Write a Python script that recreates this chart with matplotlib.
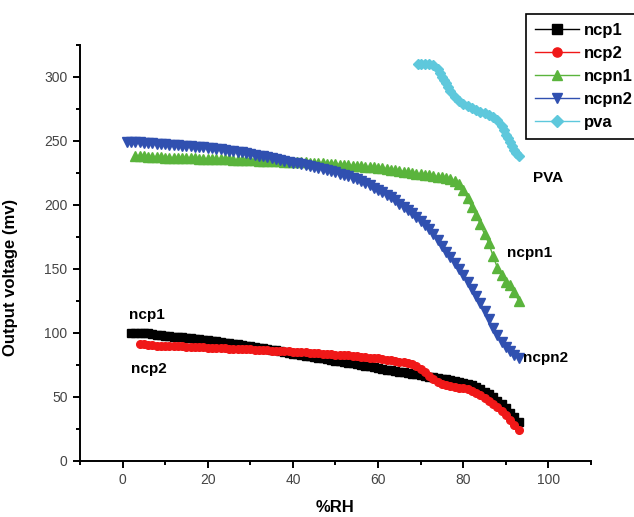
import matplotlib
matplotlib.use('Agg')
import matplotlib.pyplot as plt
from matplotlib.ticker import MultipleLocator

# values (one reading per 1 %RH)
ncp1_x = list(range(2, 94))
ncp1_y = [100, 100, 100, 100, 99.6, 99.1, 98.6, 98.2, 97.8, 97.4, 97.0, 96.7, 96.4, 96.0,
          95.7, 95.3, 95.0, 94.7, 94.3, 93.8, 93.4, 92.9, 92.4, 91.9, 91.4, 90.9, 90.4, 89.9,
          89.5, 89.0, 88.5, 88.0, 87.4, 86.8, 86.2, 85.6, 85.0, 84.4, 83.8, 83.1, 82.5, 82.0,
          81.5, 81.0, 80.5, 80.0, 79.5, 78.9, 78.2, 77.6, 77.0, 76.5, 76.0, 75.5, 75.0, 74.4,
          73.8, 73.2, 72.5, 71.9, 71.3, 70.8, 70.2, 69.6, 69.0, 68.5, 68.0, 67.5, 67.0, 66.4,
          65.8, 65.2, 64.5, 64.0, 63.5, 62.9, 62.2, 61.5, 60.8, 60.0, 59.0, 57.5, 56.0, 54.0,
          52.0, 49.5, 47.0, 44.0, 41.0, 37.5, 34.0, 30.0]

ncp2_x = list(range(4, 94))
ncp2_y = [91.5, 91.0, 90.6, 90.3, 90.0, 89.9, 89.8, 89.6, 89.5, 89.4, 89.3, 89.1, 89.0, 89.0,
          88.9, 88.7, 88.5, 88.3, 88.2, 88.1, 88.0, 87.7, 87.5, 87.3, 87.2, 87.1, 87.0, 86.7,
          86.5, 86.3, 86.2, 86.1, 86.0, 85.8, 85.6, 85.4, 85.2, 85.1, 85.0, 84.7, 84.5, 84.2,
          84.0, 83.7, 83.5, 83.2, 83.0, 82.8, 82.6, 82.3, 82.0, 81.6, 81.2, 80.8, 80.5, 80.2,
          80.0, 79.5, 79.0, 78.5, 78.0, 77.5, 77.0, 76.3, 75.5, 74.0, 72.0, 69.0, 66.0, 63.5,
          61.5, 60.0, 59.0, 58.2, 57.5, 57.0, 56.5, 55.7, 54.5, 53.0, 51.0, 49.0, 46.5, 44.5,
          42.0, 39.0, 35.5, 32.0, 28.0, 24.0]

ncpn1_x = list(range(3, 94))
ncpn1_y = [238, 238, 238, 237.8, 237.5, 237.3, 237.1, 237, 237, 236.9, 236.8, 236.6, 236.5,
           236.4, 236.3, 236.1, 236, 236, 236, 235.9, 235.8, 235.6, 235.5, 235.4, 235.3,
           235.1, 235, 234.9, 234.8, 234.6, 234.5, 234.3, 234.2, 234.1, 234, 233.9, 233.8,
           233.6, 233.5, 233.3, 233.2, 233.1, 233, 232.7, 232.5, 232.2, 232, 231.7, 231.5,
           231.2, 231, 230.7, 230.5, 230.2, 230, 229.7, 229.3, 228.9, 228.5, 228, 227.5,
           227.1, 226.7, 226.1, 225.5, 225, 224.5, 224, 223.5, 223, 222.5, 222, 221.5, 220.8,
           220, 218.5, 216.5, 212, 205, 198, 192, 185, 177, 170, 160, 151, 145, 140, 137,
           132, 125]

ncpn2_x = list(range(1, 94))
ncpn2_y = [249.5, 249.3, 249, 248.8, 248.5, 248.3, 248, 247.8, 247.5, 247.3, 247, 246.8,
           246.5, 246.3, 246, 245.8, 245.5, 245.3, 245, 244.6, 244.2, 243.9, 243.5, 243,
           242.5, 242, 241.5, 241, 240.5, 239.9, 239.2, 238.6, 238, 237.3, 236.5, 235.8, 235,
           234.2, 233.5, 233, 232.5, 231.8, 231, 230.3, 229.5, 228.8, 228, 227.3, 226.5,
           225.5, 224.5, 223.5, 222.5, 221.3, 220, 218.5, 217, 215.3, 213.5, 211.8, 210, 208,
           206, 203.5, 201, 198.5, 196, 193.3, 190.5, 187.5, 184.5, 181, 177, 172.5, 168,
           163.5, 159, 154.5, 150, 145, 140, 134.5, 129, 123, 117, 110.5, 104, 98, 93, 89,
           85.5, 82.5, 80]

pva_x = [69.3, 70, 71, 72, 73, 74, 74.5, 75, 75.5, 76, 76.5, 77, 78, 79, 80, 81, 82, 83,
         84, 85, 86, 87, 88, 89, 89.5, 90, 90.5, 91, 91.5, 92, 92.5, 93]
pva_y = [310, 310.5, 310.5, 310.5, 309, 306, 303, 300, 297.5, 295, 292, 289, 284.5, 281,
         279, 277.5, 276, 274.5, 273, 272, 270.5, 268.5, 266, 262, 258.5, 255, 252, 249,
         246, 243, 240.7, 238.5]

plt.rcParams['font.family'] = ['Liberation Sans', 'DejaVu Sans']

fig = plt.figure(figsize=(6.34, 5.17), dpi=100)
ax = fig.add_axes([80 / 634, 1 - 460.7 / 517, 511 / 634, 415.7 / 517])

ax.plot(ncp1_x, ncp1_y, '-s', color='black', ms=5.5, lw=1, label='ncp1')
ax.plot(ncp2_x, ncp2_y, '-o', color='#f01818', ms=5.5, lw=1, label='ncp2')
ax.plot(ncpn1_x, ncpn1_y, '-^', color='#5ab43c', ms=6.5, lw=1, label='ncpn1')
ax.plot(ncpn2_x, ncpn2_y, '-v', color='#3050b0', ms=6.5, lw=1, label='ncpn2')
ax.plot(pva_x, pva_y, '-D', color='#5ec8dc', ms=5, lw=1, label='pva')

ax.set_xlim(-10, 110)
ax.set_ylim(0, 325)
ax.xaxis.set_major_locator(MultipleLocator(20))
ax.xaxis.set_minor_locator(MultipleLocator(10))
ax.yaxis.set_major_locator(MultipleLocator(50))
ax.yaxis.set_minor_locator(MultipleLocator(25))

for s in ['top', 'right']:
    ax.spines[s].set_visible(False)
for s in ['left', 'bottom']:
    ax.spines[s].set_linewidth(1.4)

ax.tick_params(which='major', direction='out', length=5, width=1.4,
               labelsize=10, labelcolor='#444444', pad=4)
ax.tick_params(which='minor', direction='out', length=3, width=1.4)

ax.set_xlabel('%RH', fontsize=12, fontweight='bold')
ax.set_ylabel('Output voltage (mv)', fontsize=12, fontweight='bold')
ax.xaxis.set_label_coords(0.5, -0.095)
ax.yaxis.set_label_coords(-0.121, 0.442)

# curve labels
ax.text(1.4, 114, 'ncp1', fontsize=11, fontweight='bold', ha='left', va='center')
ax.text(1.9, 71.5, 'ncp2', fontsize=11, fontweight='bold', ha='left', va='center')
ax.text(96.4, 221, 'PVA', fontsize=11, fontweight='bold', ha='left', va='center')
ax.text(90.2, 162, 'ncpn1', fontsize=11, fontweight='bold', ha='left', va='center')
ax.text(94, 80, 'ncpn2', fontsize=11, fontweight='bold', ha='left', va='center')

leg = fig.legend(loc='upper left', bbox_to_anchor=(526 / 634, 1 - 14 / 517),
                 borderaxespad=0, fancybox=False, framealpha=1, edgecolor='black',
                 prop={'weight': 'bold', 'size': 12}, handlelength=2.6,
                 handletextpad=0.3, labelspacing=0.48, borderpad=0.55, markerscale=1.2)
leg.get_frame().set_linewidth(1.2)

fig.savefig('out.png', dpi=100)
